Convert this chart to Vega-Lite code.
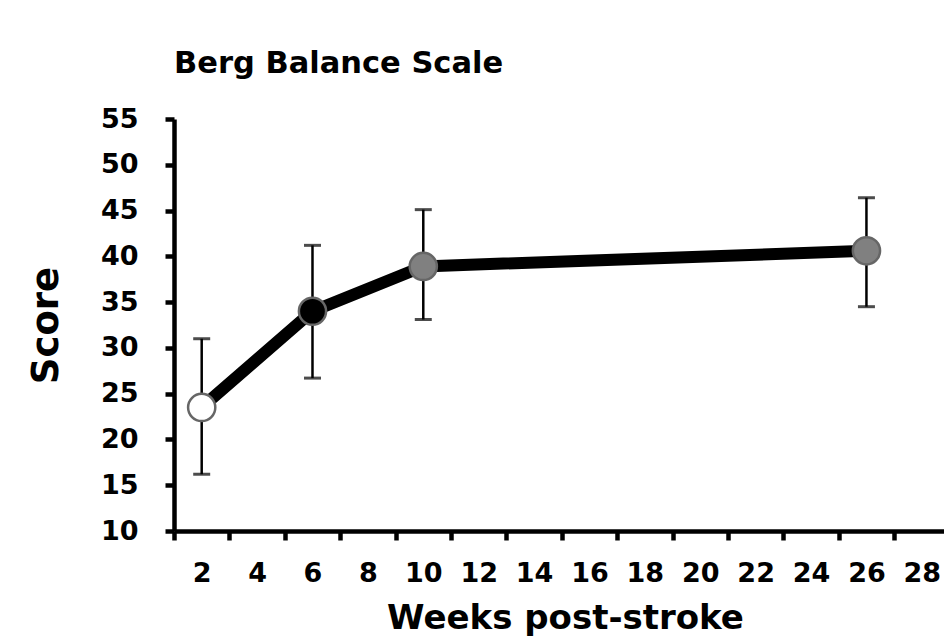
{
  "$schema": "https://vega.github.io/schema/vega-lite/v6.json",
  "autosize": {"type": "none"},
  "padding": {"left": 174, "top": 119, "right": 0, "bottom": 112},
  "width": 770,
  "height": 412,
  "background": "white",
  "title": {
    "text": "Berg Balance Scale",
    "anchor": "start",
    "frame": "group",
    "font": "DejaVu Sans",
    "fontWeight": "bold",
    "fontSize": 30.5,
    "color": "black",
    "offset": 26
  },
  "data": {
    "values": [
      {"week": 2, "score": 23.5, "lo": 16.2, "hi": 31.0, "phase": "early"},
      {"week": 6, "score": 34.0, "lo": 26.7, "hi": 41.2, "phase": "mid"},
      {"week": 10, "score": 38.9, "lo": 33.1, "hi": 45.1, "phase": "late"},
      {"week": 26, "score": 40.6, "lo": 34.5, "hi": 46.4, "phase": "late"}
    ]
  },
  "encoding": {
    "x": {
      "field": "week",
      "type": "quantitative",
      "scale": {"domain": [1, 28.8], "nice": false, "zero": false},
      "axis": {
        "title": "Weeks post-stroke",
        "values": [1,2,3,4,5,6,7,8,9,10,11,12,13,14,15,16,17,18,19,20,21,22,23,24,25,26,27,28],
        "labelExpr": "datum.value % 2 === 0 ? datum.label : ''",
        "tickOpacity": {"condition": {"test": "datum.value % 2 === 0", "value": 0}, "value": 1},
        "labelOverlap": false,
        "labelPadding": 20,
        "titlePadding": 15,
        "titleFontSize": 34,
        "titleX": 391
      }
    }
  },
  "layer": [
    {
      "mark": {"type": "line", "color": "black", "strokeWidth": 12},
      "encoding": {
        "y": {
          "field": "score",
          "type": "quantitative",
          "title": "Score",
          "scale": {"domain": [10, 55], "nice": false, "zero": false},
          "axis": {
            "values": [10,15,20,25,30,35,40,45,50,55],
            "labelPadding": 27,
            "titlePadding": 35,
            "titleFontSize": 37
          }
        }
      }
    },
    {
      "mark": {"type": "rule", "color": "black", "strokeWidth": 2.5},
      "encoding": {
        "y": {"field": "lo", "type": "quantitative", "title": "Score"},
        "y2": {"field": "hi"}
      }
    },
    {
      "mark": {"type": "tick", "orient": "horizontal", "color": "black", "size": 17, "thickness": 3},
      "encoding": {
        "y": {"field": "lo", "type": "quantitative", "title": "Score"}
      }
    },
    {
      "mark": {"type": "tick", "orient": "horizontal", "color": "black", "size": 17, "thickness": 3},
      "encoding": {
        "y": {"field": "hi", "type": "quantitative", "title": "Score"}
      }
    },
    {
      "mark": {"type": "point", "shape": "circle", "filled": true, "size": 740, "stroke": "#666666", "strokeWidth": 2.5, "opacity": 1},
      "encoding": {
        "y": {"field": "score", "type": "quantitative", "title": "Score"},
        "fill": {
          "field": "phase",
          "type": "nominal",
          "scale": {"domain": ["early", "mid", "late"], "range": ["white", "black", "#808080"]},
          "legend": null
        }
      }
    }
  ],
  "config": {
    "view": {"stroke": null},
    "font": "DejaVu Sans",
    "axis": {
      "grid": false,
      "domainColor": "black",
      "domainWidth": 4.5,
      "tickColor": "black",
      "tickWidth": 4.5,
      "tickSize": 9,
      "labelFont": "DejaVu Sans",
      "labelFontWeight": "bold",
      "labelFontSize": 27,
      "labelColor": "black",
      "titleFont": "DejaVu Sans",
      "titleFontWeight": "bold",
      "titleColor": "black"
    }
  }
}
